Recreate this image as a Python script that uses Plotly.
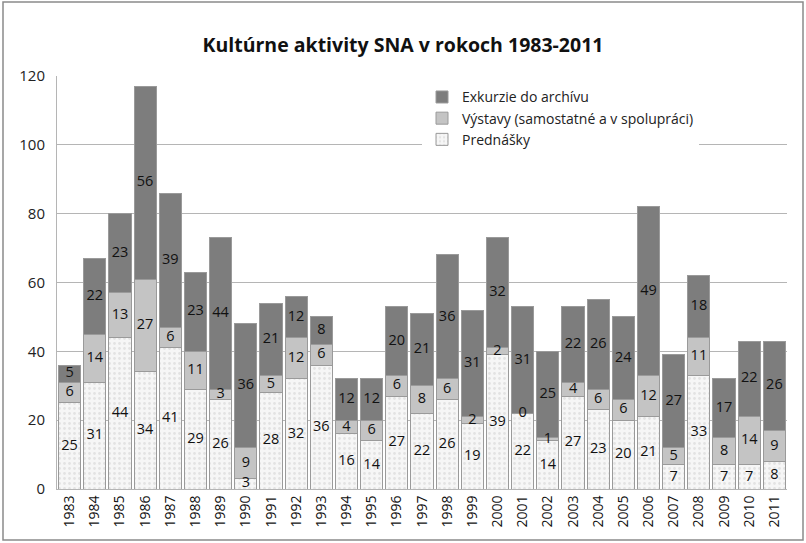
import plotly.graph_objects as go

years = [str(y) for y in range(1983, 2012)]
prednasky = [25, 31, 44, 34, 41, 29, 26, 3, 28, 32, 36, 16, 14, 27, 22, 26, 19, 39, 22, 14, 27, 23, 20, 21, 7, 33, 7, 7, 8]
vystavy = [6, 14, 13, 27, 6, 11, 3, 9, 5, 12, 6, 4, 6, 6, 8, 6, 2, 2, 0, 1, 4, 6, 6, 12, 5, 11, 8, 14, 9]
exkurzie = [5, 22, 23, 56, 39, 23, 44, 36, 21, 12, 8, 12, 12, 20, 21, 36, 31, 32, 31, 25, 22, 26, 24, 49, 27, 18, 17, 22, 26]

FONT = "Open Sans"
series = [
    ("Prednášky", prednasky, "#f4f4f4", dict(shape=".", fgcolor="#cfcfcf", bgcolor="#f6f6f6", size=5, solidity=0.25)),
    ("Výstavy (samostatné a v spolupráci)", vystavy, "#c4c4c4", None),
    ("Exkurzie do archívu", exkurzie, "#7d7d7d", None),
]

fig = go.Figure()
base = [0] * len(years)
for name, vals, color, pattern in series:
    marker = dict(color=color, line=dict(color="#9a9a9a", width=1))
    if pattern:
        marker["pattern"] = pattern
    fig.add_trace(go.Bar(x=years, y=vals, name=name, marker=marker, hoverinfo="skip"))
    # labels centred in each segment
    mids = [b + v / 2 for b, v in zip(base, vals)]
    fig.add_trace(go.Scatter(
        x=years, y=mids, text=[str(v) for v in vals], mode="text",
        textfont=dict(family=FONT, size=14.5, color="#111"),
        showlegend=False, hoverinfo="skip",
    ))
    base = [b + v for b, v in zip(base, vals)]

fig.update_layout(
    width=806, height=543,
    barmode="stack", bargap=0.12,
    paper_bgcolor="white", plot_bgcolor="white",
    margin=dict(l=57, r=19, t=76, b=54, autoexpand=False),
    font=dict(family=FONT, size=14, color="#222"),
    title=dict(text="<b>Kultúrne aktivity SNA v rokoch 1983-2011</b>",
               x=0.5, xanchor="center", y=0.917, yanchor="middle",
               font=dict(family=FONT, size=19.5, color="#111")),
    legend=dict(x=0.5, y=0.987, xanchor="left", yanchor="top",
                traceorder="reversed", bgcolor="white",
                font=dict(family=FONT, size=14, color="#222"),
                itemwidth=30, tracegroupgap=0),
    showlegend=True,
)
fig.update_yaxes(range=[0, 120], dtick=20, showgrid=True, gridcolor="#b5b5b5",
                 showline=True, linecolor="#b5b5b5", ticks="", zeroline=False,
                 automargin=False, tickfont=dict(size=15, color="#222"), ticklabelstandoff=8)
fig.update_xaxes(type="category", range=[-0.5, len(years) - 0.5], tickangle=-90,
                 showline=True, linecolor="#b5b5b5",
                 automargin=False, ticks="", tickfont=dict(size=14, color="#111"))

# outer chart border
fig.add_shape(type="rect", xref="paper", yref="paper",
              x0=-54 / 730, x1=1 + 16 / 730, y0=-51 / 413, y1=1 + 74 / 413,
              line=dict(color="#8a8a8a", width=1.5), fillcolor="rgba(0,0,0,0)", layer="below")

fig.write_html("out.html", config={"displayModeBar": False},
               post_script="document.body.style.margin='0';")
